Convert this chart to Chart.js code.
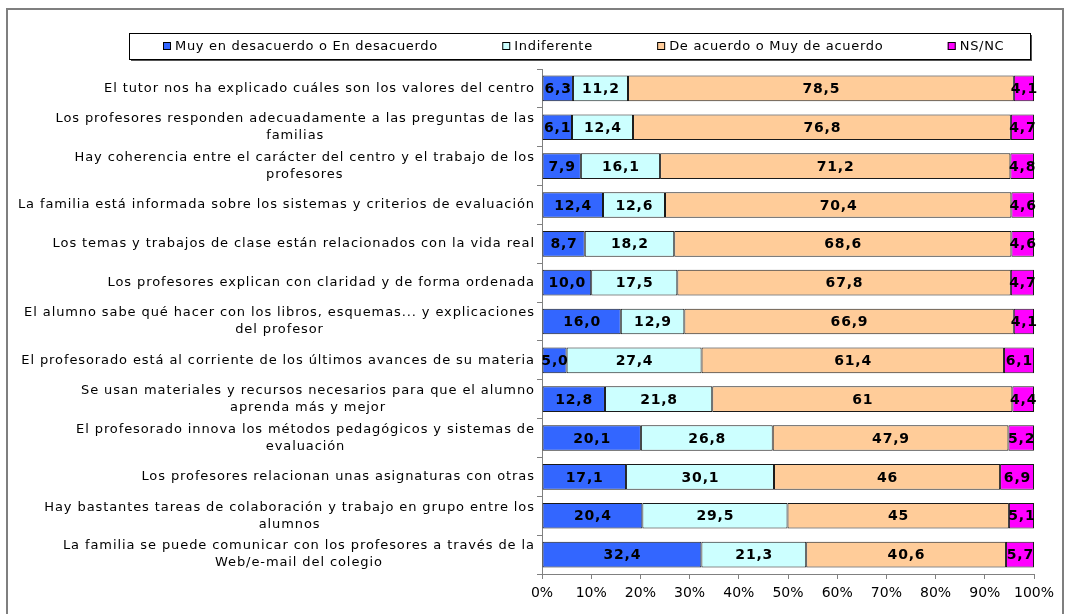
<!DOCTYPE html>
<html>
<head>
<meta charset="utf-8">
<script src="https://cdn.jsdelivr.net/npm/chart.js@4/dist/chart.umd.min.js"></script>
<style>
  html, body { margin: 0; padding: 0; background: #fff; }
  #wrap { width: 1066px; height: 614px; }
</style>
</head>
<body>
<div id="wrap"><canvas id="chart" width="1066" height="614"></canvas></div>
<script>
// categories (wrapped lines as arrays)
const categories = [
	'El tutor nos ha explicado cuáles son los valores del centro',
	['Los profesores responden adecuadamente a las preguntas de las', 'familias'],
	['Hay coherencia entre el carácter del centro y el trabajo de los', 'profesores'],
	'La familia está informada sobre los sistemas y criterios de evaluación',
	'Los temas y trabajos de clase están relacionados con la vida real',
	'Los profesores explican con claridad y de forma ordenada',
	['El alumno sabe qué hacer con los libros, esquemas... y explicaciones', 'del profesor'],
	'El profesorado está al corriente de los últimos avances de su materia',
	['Se usan materiales y recursos necesarios para que el alumno', 'aprenda más y mejor'],
	['El profesorado innova los métodos pedagógicos y sistemas de', 'evaluación'],
	'Los profesores relacionan unas asignaturas con otras',
	['Hay bastantes tareas de colaboración y trabajo en grupo entre los', 'alumnos'],
	['La familia se puede comunicar con los profesores a través de la', 'Web/e-mail del colegio']
];

// values as printed on the chart
const desacuerdo = ['6,3', '6,1', '7,9', '12,4', '8,7', '10,0', '16,0', '5,0', '12,8', '20,1', '17,1', '20,4', '32,4'];
const indiferente = ['11,2', '12,4', '16,1', '12,6', '18,2', '17,5', '12,9', '27,4', '21,8', '26,8', '30,1', '29,5', '21,3'];
const deAcuerdo = ['78,5', '76,8', '71,2', '70,4', '68,6', '67,8', '66,9', '61,4', '61', '47,9', '46', '45', '40,6'];
const nsnc = ['4,1', '4,7', '4,8', '4,6', '4,6', '4,7', '4,1', '6,1', '4,4', '5,2', '6,9', '5,1', '5,7'];

const seriesNames = ['Muy en desacuerdo o En desacuerdo', 'Indiferente', 'De acuerdo o Muy de acuerdo', 'NS/NC'];
const seriesColors = ['#3366FF', '#CCFFFF', '#FFCC99', '#FF00FF'];
const xTicks = ['0%', '10%', '20%', '30%', '40%', '50%', '60%', '70%', '80%', '90%', '100%'];

const FONT = '"DejaVu Sans", Verdana, sans-serif';
const raw = [desacuerdo, indiferente, deAcuerdo, nsnc];
const num = raw.map(s => s.map(v => parseFloat(v.replace(',', '.'))));
const totals = categories.map((c, i) => num.reduce((a, s) => a + s[i], 0));

const datasets = num.map((s, k) => ({
	label: seriesNames[k],
	data: s.map((v, i) => v / totals[i] * 100),
	printed: raw[k],
	backgroundColor: seriesColors[k],
	borderColor: '#1a1a1a',
	borderWidth: 1,
	borderSkipped: false,
	barPercentage: 0.66,
	categoryPercentage: 1
}));

// width of a string drawn with extra spacing between letters
function spacedWidth(ctx, txt, sp) {
	ctx.letterSpacing = '0px';
	const w = ctx.measureText(txt).width;
	ctx.letterSpacing = sp + 'px';
	return w + sp * (txt.length - 1);
}

const decor = {
	id: 'decor',
	afterDraw(chart) {
		const ctx = chart.ctx;
		ctx.save();
		// outer frame
		ctx.strokeStyle = '#7f7f7f';
		ctx.lineWidth = 2;
		ctx.strokeRect(7, 9, 1056, 700);

		// legend box with shadow
		ctx.fillStyle = '#555';
		ctx.fillRect(131, 35, 901, 26);
		ctx.fillStyle = '#fff';
		ctx.fillRect(129, 33, 901, 26);
		ctx.strokeStyle = '#000';
		ctx.lineWidth = 1;
		ctx.strokeRect(129.5, 33.5, 901, 26);

		ctx.font = '13px ' + FONT;
		ctx.textBaseline = 'middle';
		ctx.textAlign = 'left';
		let x = 163;
		chart.data.datasets.forEach(ds => {
			const w = spacedWidth(ctx, ds.label, 0.7);
			ctx.fillStyle = ds.backgroundColor;
			ctx.fillRect(x, 42, 8, 8);
			ctx.strokeStyle = '#000';
			ctx.strokeRect(x + 0.5, 42.5, 7, 7);
			ctx.fillStyle = '#000';
			ctx.fillText(ds.label, x + 12, 46.5);
			x += 12 + w + 65;
		});

		// category labels, wrapped lines centred in their block
		const ys = chart.scales.y;
		const right = ys.right - 8;
		const sp = 0.9;
		chart.data.labels.forEach((lab, i) => {
			const lines = Array.isArray(lab) ? lab : [lab];
			const ws = lines.map(l => spacedWidth(ctx, l, sp));
			const w = Math.max(...ws);
			const cx = right - w / 2;
			const cy = ys.getPixelForValue(i);
			const lh = 17;
			lines.forEach((l, j) => {
				ctx.fillText(l, cx - ws[j] / 2, cy + (j - (lines.length - 1) / 2) * lh);
			});
		});

		// value labels
		ctx.font = 'bold 14px ' + FONT;
		chart.data.datasets.forEach((ds, k) => {
			chart.getDatasetMeta(k).data.forEach((el, i) => {
				const p = el.getCenterPoint();
				const w = spacedWidth(ctx, ds.printed[i], 0.8);
				ctx.fillText(ds.printed[i], p.x - w / 2, p.y + 1);
			});
		});
		ctx.restore();
	}
};

new Chart(document.getElementById('chart'), {
	type: 'bar',
	data: { labels: categories, datasets: datasets },
	plugins: [decor],
	options: {
		indexAxis: 'y',
		responsive: false,
		animation: false,
		devicePixelRatio: 1,
		layout: { padding: { top: 69, right: 32, left: 0, bottom: 0 } },
		plugins: {
			legend: { display: false },
			tooltip: { enabled: false }
		},
		scales: {
			x: {
				stacked: true,
				min: 0,
				max: 100,
				afterFit: s => { s.height = 40; },
				afterBuildTicks: s => { s.ticks = xTicks.map((t, i) => ({ value: i * 10 })); },
				grid: {
					drawOnChartArea: false,
					drawTicks: true,
					tickLength: 5,
					color: '#808080'
				},
				border: { color: '#808080' },
				ticks: {
					color: '#000',
					padding: 6,
					maxRotation: 0,
					autoSkip: false,
					font: { family: FONT, size: 14 },
					callback: (v, i) => xTicks[i]
				}
			},
			y: {
				stacked: true,
				afterFit: s => { s.width = 542; },
				grid: {
					drawOnChartArea: false,
					drawTicks: true,
					tickLength: 5,
					color: '#808080',
					offset: true
				},
				border: { color: '#808080' },
				ticks: {
					color: 'rgba(0,0,0,0)',
					autoSkip: false,
					font: { family: FONT, size: 13 }
				}
			}
		}
	}
});
</script>
</body>
</html>
